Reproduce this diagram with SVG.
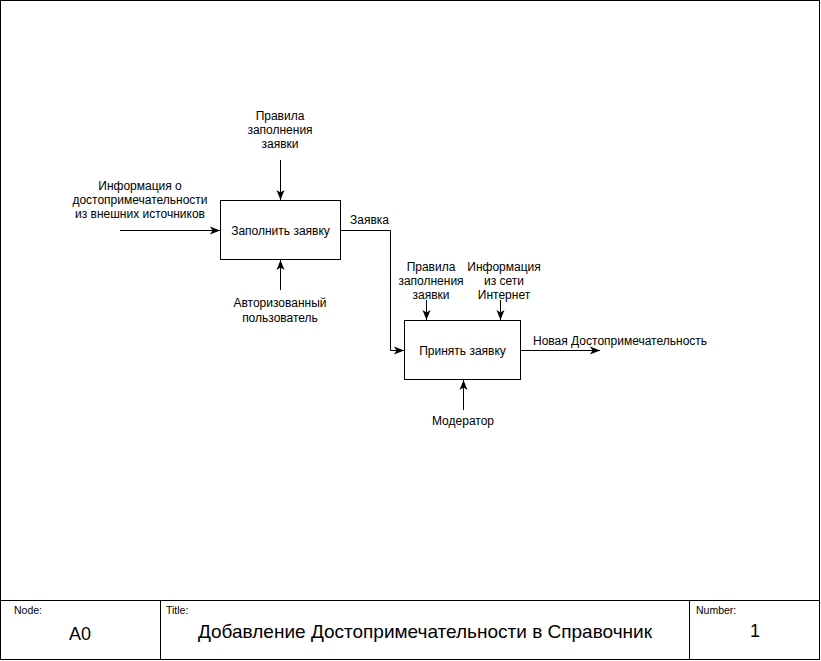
<svg xmlns="http://www.w3.org/2000/svg" width="821" height="661" viewBox="0 0 821 661">
<style>
text{font-family:"Liberation Sans",Arial,sans-serif;fill:#000}
.l{font-size:12px;text-anchor:middle}
.s{font-size:10.5px}
.box{fill:#fff;stroke:#000;stroke-width:1}
.c{fill:none;stroke:#000;stroke-width:1}
</style>
<defs>
<marker id="a" viewBox="0 0 10 10" refX="10" refY="5" markerWidth="10" markerHeight="10" markerUnits="userSpaceOnUse" orient="auto">
<path d="M0,1 L10,5 L0,9 L2.5,5 Z" fill="#000"/>
</marker>
</defs>
<g id="frame">
<rect x="0.5" y="0.5" width="819" height="659" fill="#fff" stroke="#000"/>
<line x1="0" y1="600.5" x2="820" y2="600.5" stroke="#000"/>
<line x1="160.5" y1="600" x2="160.5" y2="660" stroke="#000"/>
<line x1="689.5" y1="600" x2="689.5" y2="660" stroke="#000"/>
<text class="s" x="14" y="614">Node:</text>
<text x="80" y="640" style="font-size:18px;text-anchor:middle">A0</text>
<text class="s" x="166" y="614">Title:</text>
<text x="425" y="638" style="font-size:19px;text-anchor:middle">Добавление Достопримечательности в Справочник</text>
<text class="s" x="696" y="614">Number:</text>
<text x="755" y="637" style="font-size:18px;text-anchor:middle">1</text>
</g>
<g id="connectors">
<line class="c" x1="120" y1="230.5" x2="220" y2="230.5" marker-end="url(#a)"/>
<line class="c" x1="280.5" y1="160" x2="280.5" y2="200" marker-end="url(#a)"/>
<line class="c" x1="280.5" y1="290" x2="280.5" y2="260" marker-end="url(#a)"/>
<polyline class="c" points="341,230.5 390.5,230.5 390.5,350.5 404,350.5" marker-end="url(#a)"/>
<line class="c" x1="426.5" y1="300" x2="426.5" y2="320" marker-end="url(#a)"/>
<line class="c" x1="500.5" y1="300" x2="500.5" y2="320" marker-end="url(#a)"/>
<line class="c" x1="463.5" y1="410" x2="463.5" y2="380" marker-end="url(#a)"/>
<line class="c" x1="521" y1="350.5" x2="600" y2="350.5" marker-end="url(#a)"/>
<text class="l" x="280" y="120">Правила</text>
<text class="l" x="280" y="134">заполнения</text>
<text class="l" x="280" y="148">заявки</text>
<text class="l" x="140" y="190">Информация о</text>
<text class="l" x="140" y="204">достопримечательности</text>
<text class="l" x="140" y="218">из внешних источников</text>
<text class="l" x="280" y="307">Авторизованный</text>
<text class="l" x="280" y="322">пользователь</text>
<text x="350" y="224" style="font-size:12px">Заявка</text>
<text class="l" x="431" y="271">Правила</text>
<text class="l" x="431" y="285">заполнения</text>
<text class="l" x="431" y="299">заявки</text>
<text class="l" x="504" y="271">Информация</text>
<text class="l" x="504" y="285">из сети</text>
<text class="l" x="504" y="299">Интернет</text>
<text class="l" x="463" y="425">Модератор</text>
<text x="533" y="345" style="font-size:12px">Новая Достопримечательность</text>
</g>
<g id="node1">
<rect class="box" x="220.5" y="200.5" width="120" height="59"/>
<text class="l" x="280.5" y="235">Заполнить заявку</text>
</g>
<g id="node2">
<rect class="box" x="404.5" y="320.5" width="116" height="59"/>
<text class="l" x="462.5" y="355">Принять заявку</text>
</g>
</svg>
